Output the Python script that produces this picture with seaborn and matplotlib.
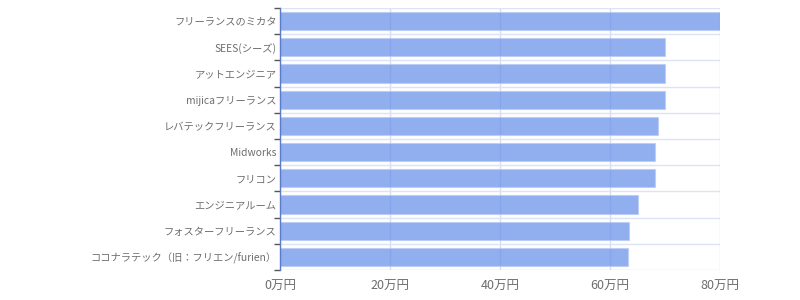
import matplotlib
matplotlib.use("Agg")
import matplotlib.pyplot as plt
import seaborn as sns
import pandas as pd
from matplotlib.ticker import FixedLocator, FuncFormatter

categories = [
    "フリーランスのミカタ",
    "SEES(シーズ)",
    "アットエンジニア",
    "mijicaフリーランス",
    "レバテックフリーランス",
    "Midworks",
    "フリコン",
    "エンジニアルーム",
    "フォスターフリーランス",
    "ココナラテック（旧：フリエン/furien）",
]
values = [80, 70, 70, 70, 68.8, 68.2, 68.1, 65, 63.5, 63.3]
x_ticks = [0, 20, 40, 60, 80]

sns.set_theme(style="white")
plt.rcParams["font.family"] = ["Noto Sans CJK JP", "DejaVu Sans"]

df = pd.DataFrame({"name": categories, "value": values})

fig = plt.figure(figsize=(8, 3), dpi=100)
ax = fig.add_axes([0.35, 0.1, 0.55, 0.8733])

sns.barplot(data=df, x="value", y="name", orient="h", ax=ax,
            color="#6C93EA", alpha=0.75, width=0.69, saturation=1,
            edgecolor="#BCCBF2", linewidth=0.8, zorder=3)

ax.set_xlim(0, 80)
ax.set_ylim(len(categories) - 0.5, -0.5)
ax.set_xlabel("")
ax.set_ylabel("")

ax.xaxis.set_major_locator(FixedLocator(x_ticks))
ax.xaxis.set_major_formatter(FuncFormatter(lambda v, p: f"{int(v)}万円"))
ax.yaxis.set_minor_locator(FixedLocator([i - 0.5 for i in range(len(categories) + 1)]))

ax.grid(False)
ax.set_axisbelow(True)
ax.xaxis.grid(True, which="major", color="#D5DDF0", linewidth=1, zorder=0)
ax.yaxis.grid(True, which="minor", color="#DCE3F3", linewidth=1, zorder=0)

for s in ["top", "right", "bottom"]:
    ax.spines[s].set_visible(False)
ax.spines["left"].set_color("#5B7BC8")
ax.spines["left"].set_linewidth(1)
ax.spines["left"].set_zorder(5)

ax.tick_params(axis="y", which="major", length=0, pad=2.5, labelsize=7.4, labelcolor="#6E6E6E")
ax.tick_params(axis="y", which="minor", length=4.3, width=1, color="#555555", left=True)
ax.tick_params(axis="x", which="major", length=0, pad=7, labelsize=9, labelcolor="#6E6E6E")

fig.savefig("out.png", dpi=100)
